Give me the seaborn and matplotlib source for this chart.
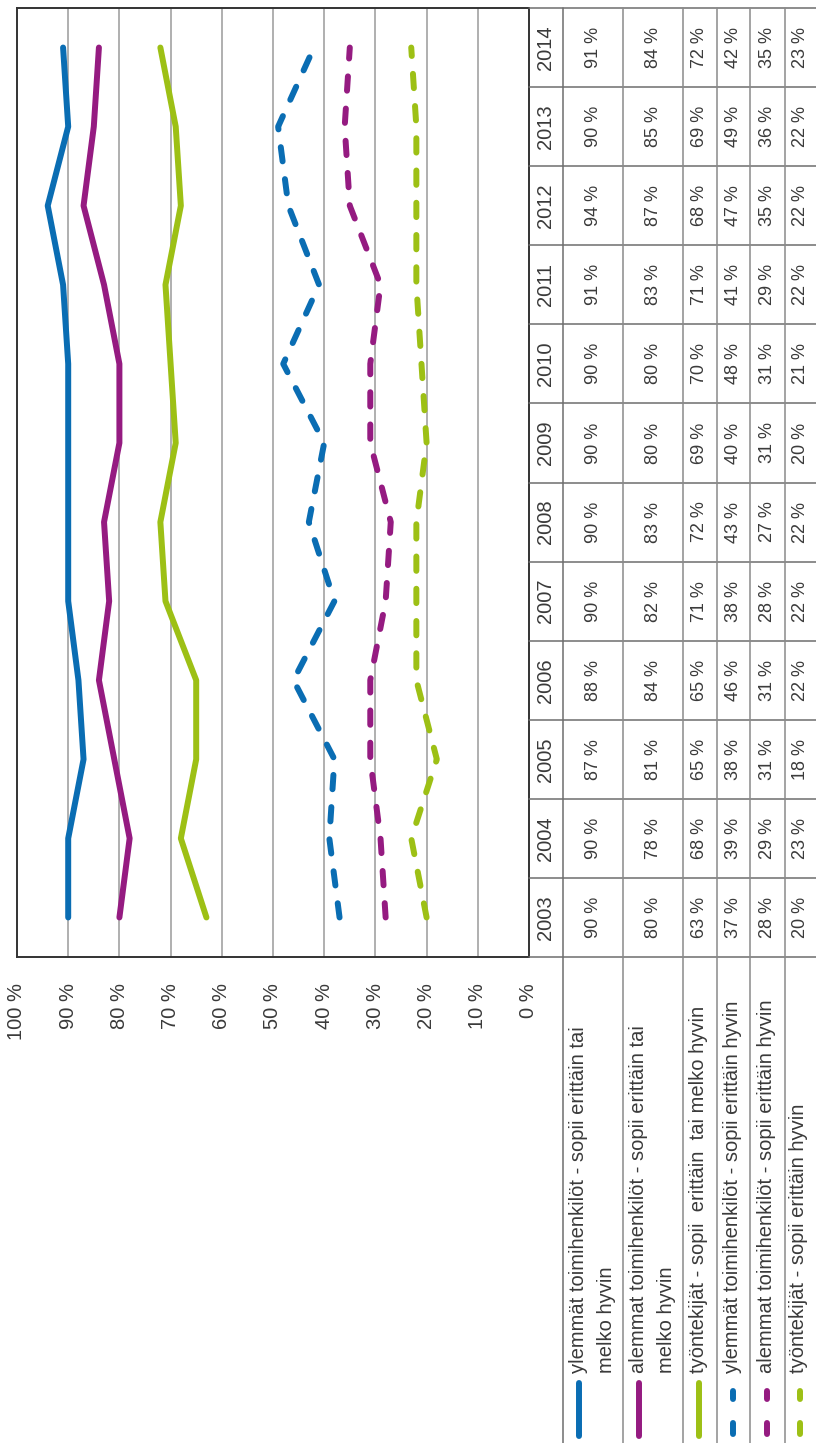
import numpy as np
import pandas as pd
import matplotlib
matplotlib.use("Agg")
import matplotlib.pyplot as plt
import seaborn as sns

# =====================================================
# DATA
# =====================================================

years = list(range(2003, 2015))

ylemmat_tai_melko = [90, 90, 87, 88, 90, 90, 90, 90, 91, 94, 90, 91]
alemmat_tai_melko = [80, 78, 81, 84, 82, 83, 80, 80, 83, 87, 85, 84]
tyontekijat_tai_melko = [63, 68, 65, 65, 71, 72, 69, 70, 71, 68, 69, 72]
ylemmat_hyvin = [37, 39, 38, 46, 38, 43, 40, 48, 41, 47, 49, 42]
alemmat_hyvin = [28, 29, 31, 31, 28, 27, 31, 31, 29, 35, 36, 35]
tyontekijat_hyvin = [20, 23, 18, 22, 22, 22, 20, 21, 22, 22, 22, 23]

series_labels = [
    ["ylemmät toimihenkilöt - sopii erittäin tai", "melko hyvin"],
    ["alemmat toimihenkilöt - sopii erittäin tai", "melko hyvin"],
    ["työntekijät - sopii  erittäin  tai melko hyvin"],
    ["ylemmät toimihenkilöt - sopii erittäin hyvin"],
    ["alemmat toimihenkilöt - sopii erittäin hyvin"],
    ["työntekijät - sopii erittäin hyvin"],
]
series_groups = ["ylemmät", "alemmat", "työntekijät"] * 2
series_levels = ["tai melko"] * 3 + ["hyvin"] * 3
series_values = [
    ylemmat_tai_melko, alemmat_tai_melko, tyontekijat_tai_melko,
    ylemmat_hyvin, alemmat_hyvin, tyontekijat_hyvin,
]

x_ticks = [100, 90, 80, 70, 60, 50, 40, 30, 20, 10, 0]

# =====================================================
# STYLE
# =====================================================

BLUE = "#0a6db3"
PURPLE = "#951b81"
GREEN = "#9dc015"
TEXT = "#3a3a3a"

palette = {"ylemmät": BLUE, "alemmat": PURPLE, "työntekijät": GREEN}
dash_styles = {"tai melko": "", "hyvin": (2.4, 3.0)}

sns.set_style("white")
plt.rcParams["font.family"] = ["Liberation Sans", "DejaVu Sans"]

rows = []
for grp, lvl, vals in zip(series_groups, series_levels, series_values):
    for yr, v in zip(years, vals):
        rows.append({"group": grp, "level": lvl, "year": yr, "value": v})
df = pd.DataFrame(rows)

# =====================================================
# FIGURE (rotated layout, pixel helpers)
# =====================================================

W, H = 816, 1443
fig = plt.figure(figsize=(W / 100, H / 100), dpi=100)

PLOT_L, PLOT_R = 17, 529
PLOT_T, PLOT_B = 8, 957

ax = fig.add_axes([PLOT_L / W, 1 - PLOT_B / H,
                   (PLOT_R - PLOT_L) / W, (PLOT_B - PLOT_T) / H])

sns.lineplot(
    data=df, x="value", y="year",
    hue="group", style="level",
    palette=palette, dashes=dash_styles,
    orient="y", sort=True, estimator=None,
    linewidth=4.3, legend=False, ax=ax
)

for ln in ax.lines:
    ln.set_solid_capstyle("round")
    ln.set_dash_capstyle("round")
    ln.set_solid_joinstyle("round")
    ln.set_dash_joinstyle("round")

ax.set_xlim(100, 0)
ax.set_ylim(years[0] - 0.5, years[-1] + 0.5)
ax.set_xticks(x_ticks)
ax.set_xticklabels([f"{t} %" for t in x_ticks], rotation=90,
                   fontsize=14.5, color=TEXT)
ax.tick_params(axis="x", length=0, pad=19)
ax.set_yticks([])
ax.set_xlabel("")
ax.set_ylabel("")
for t in x_ticks[1:-1]:
    ax.axvline(t, color="#9a9a9a", lw=1.1, zorder=0)
for sp in ax.spines.values():
    sp.set_color("#333333")
    sp.set_linewidth(1.4)

# =====================================================
# TABLE
# =====================================================

tab = fig.add_axes([0, 0, 1, 1], facecolor="none")
tab.set_xlim(0, W)
tab.set_ylim(H, 0)
tab.axis("off")

cell_h = (PLOT_B - PLOT_T) / len(years)
col_edges = [563, 623, 683, 717, 750, 785, W]
col_centers = [(a + b) / 2 for a, b in zip(col_edges[:-1], col_edges[1:])]
year_col_center = (PLOT_R + col_edges[0]) / 2

for k in range(len(years) + 1):
    yy = PLOT_T + k * cell_h
    tab.plot([PLOT_R, W], [yy, yy], color="#6e6e6e", lw=1.1)
for xx in col_edges[:-1]:
    tab.plot([xx, xx], [PLOT_T, H], color="#8a8a8a" if xx != 563 else "#6e6e6e", lw=1.1)

for i, yr in enumerate(years):
    yc = PLOT_B - (i + 0.5) * cell_h
    tab.text(year_col_center, yc, str(yr), rotation=90, ha="center",
             va="center", fontsize=14.5, color=TEXT)
    for j, vals in enumerate(series_values):
        tab.text(col_centers[j], yc, f"{vals[i]} %", rotation=90,
                 ha="center", va="center", fontsize=13, color=TEXT)

# legend column (bottom)
colors = [BLUE, PURPLE, GREEN, BLUE, PURPLE, GREEN]
sample_x = [579, 639, 699, 733, 767, 800]
for j, lines in enumerate(series_labels):
    x0 = sample_x[j]
    if series_levels[j] == "tai melko":
        tab.plot([x0, x0], [1383, 1436], color=colors[j], lw=4.3,
                 solid_capstyle="round")
    else:
        tab.plot([x0, x0], [1391, 1399], color=colors[j], lw=4.3,
                 solid_capstyle="round")
        tab.plot([x0, x0], [1423, 1434], color=colors[j], lw=4.3,
                 solid_capstyle="round")
    for n, txt in enumerate(lines):
        tab.text(x0 - 1 + n * 28, 1373, txt, rotation=90,
                 rotation_mode="anchor", ha="left", va="center",
                 fontsize=14.5, color=TEXT)

fig.savefig("out.png", dpi=100)
plt.close(fig)
